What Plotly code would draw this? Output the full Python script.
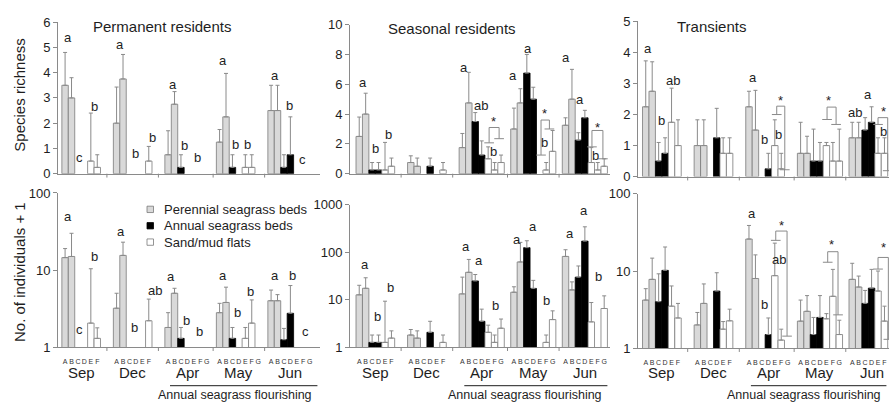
import math
import plotly.graph_objects as go

FONT = "Arial, 'Liberation Sans', sans-serif"
W, H = 889, 412

MONTHS = ["Sep", "Dec", "Apr", "May", "Jun"]
SITES = [list("ABCDEF"), list("ABCDEF"), list("ABCDEFG"), list("ABCDEFG"), list("ABCDEFG")]
HABITATS = ["Perennial seagrass beds", "Annual seagrass beds", "Sand/mud flats"]
SITE_HABITAT = {"A": 0, "B": 0, "C": 1, "D": 1, "E": 2, "F": 2, "G": 2}
PANEL_TITLES = ["Permanent residents", "Seasonal residents", "Transients"]
Y_TITLES = ["Species richness", "No. of individuals + 1"]
PERIOD_LABEL = "Annual seagrass flourishing"

# ---- data: order Sep A-F, Dec A-F, Apr A-G, May A-G, Jun A-G ----
PERM_RICH = [3.5, 3.0, 0, 0, 0.5, 0.25,
             2.0, 3.75, 0, 0, 0, 0.5,
             0.75, 2.75, 0.25, 0, 0, 0, 0,
             1.25, 2.25, 0.25, 0, 0.25, 0.25, 0,
             2.5, 2.5, 0.25, 0.75, 0, 0, 0]
PERM_RICH_SE = [1.3, 0.8, 0, 0, 1.9, 0.5,
                1.43, 0.97, 0, 0, 0, 0.58,
                0.95, 0.5, 0.5, 0, 0, 0, 0,
                0.5, 1.72, 0.5, 0, 0.5, 0.5, 0,
                1.0, 1.0, 0.5, 1.5, 0, 0, 0]
SEAS_RICH = [2.5, 4.0, 0.25, 0.25, 0.25, 0.5,
             0.75, 0.5, 0, 0.5, 0, 0.25,
             1.75, 4.75, 3.5, 1.25, 1.0, 0.25, 0.75,
             3.0, 4.75, 6.75, 5.0, 0, 0.25, 1.5,
             3.25, 5.0, 2.25, 3.75, 0.75, 0.25, 0.5]
SEAS_RICH_SE = [1.3, 1.4, 0.5, 0.5, 1.85, 0.55,
                0.45, 0.55, 0, 0.55, 0, 0.5,
                0.95, 2.05, 0.6, 0.95, 0.8, 0.5, 0.5,
                1.4, 0.95, 1.25, 0.8, 0, 0.5, 1.4,
                0.5, 2.0, 0.5, 0.5, 1.0, 0.5, 0.5]
TRAN_RICH = [2.25, 2.75, 0.5, 0.75, 1.75, 1.0,
             1.0, 1.0, 0, 1.25, 0.75, 0.75,
             2.25, 1.5, 0, 0.25, 1.0, 0.25, 0,
             0.75, 0.75, 0.5, 0.5, 1.0, 0.5, 0.5,
             1.25, 1.25, 1.5, 1.75, 0.75, 0.75, 0]
TRAN_RICH_SE = [1.48, 0.95, 0.6, 0.5, 1.1, 0.83,
                0.83, 0.83, 0, 0.95, 0.5, 0.5,
                0.5, 1.28, 0, 0.5, 0.83, 0.5, 0,
                1.0, 0.55, 1.03, 0.6, 0.1, 0.6, 1.03,
                0.5, 0.5, 0.4, 0.5, 0.5, 0.5, 0]
PERM_IND = [14.5, 15.0, 1, 1, 2.05, 1.3,
            3.2, 15.5, 1, 1, 1, 2.2,
            1.8, 5.0, 1.3, 1, 1, 1, 1,
            2.8, 3.8, 1.3, 1, 1.3, 2.05, 1,
            4.0, 4.0, 1.25, 2.75, 1, 1, 1]
PERM_IND_SE = [4.5, 15.0, 0, 0, 8.35, 0.48,
               1.8, 7.5, 0, 0, 0, 2.0,
               1.0, 0.8, 0.5, 0, 0, 0, 0,
               0.9, 2.2, 0.5, 0, 0.5, 2.05, 0,
               1.5, 0.8, 0.5, 3.55, 0, 0, 0]
SEAS_IND = [12.6, 17.3, 1.26, 1.26, 1.26, 1.55,
            1.8, 1.55, 1, 2.05, 1, 1.26,
            13.2, 37.5, 24.7, 3.5, 2.05, 1.26, 2.5,
            14.3, 62, 124, 17.2, 1, 1.26, 3.8,
            81, 16, 29.7, 170, 3.4, 1, 6.5]
SEAS_IND_SE = [7.4, 11.5, 0.54, 0.54, 8.0, 0.65,
               0.55, 0.65, 0, 1.45, 0, 0.54,
               16.5, 32.5, 9.0, 2.8, 0.85, 0.54, 1.4,
               4.3, 98, 49, 8.2, 0, 0.54, 2.0,
               31, 7.6, 21.3, 170, 5.3, 0, 5.5]
TRAN_IND = [4.2, 7.8, 4.0, 10.2, 3.5, 2.46,
            2.0, 3.8, 1, 5.5, 1.76, 2.26,
            26, 8.0, 1, 1.5, 8.7, 1.27, 1,
            2.24, 3.0, 1.5, 2.5, 2.4, 4.7, 1.5,
            7.8, 6.2, 3.8, 6.0, 5.5, 2.24, 1]
TRAN_IND_SE = [1.7, 6.9, 5.2, 10.3, 2.9, 1.34,
               0.9, 3.0, 0, 4.0, 0.45, 0.94,
               13, 8.2, 0, 0.96, 14.3, 0.49, 0,
               1.96, 1.8, 1.0, 2.3, 0.4, 5.8, 0.8,
               4.8, 2.4, 1.8, 4.5, 4.5, 1.26, 0]

# significance letters (text, x in bar units, y in data units)
PERM_RICH_LET = [("a", 0.9, 5.4), ("c", 2.8, 0.65), ("b", 5.0, 2.65),
                 ("a", 9.1, 5.1), ("b", 11.5, 0.8), ("b", 14.1, 1.45),
                 ("a", 17.2, 3.55), ("b", 19.1, 1.1), ("b", 21.1, 0.65),
                 ("a", 25.0, 4.5), ("b", 27.0, 1.15), ("b", 28.8, 1.15),
                 ("a", 33.1, 3.9), ("b", 35.3, 2.7), ("c", 37.4, 0.55)]
SEAS_RICH_LET = [("a", 1.1, 6.1), ("b", 3.1, 1.7), ("b", 5.0, 2.6),
                 ("a", 16.8, 7.1), ("ab", 19.4, 4.6), ("b", 21.3, 1.5), ("*", 21.3, 3.5),
                 ("a", 24.4, 6.6), ("a", 26.7, 8.4), ("b", 29.2, 2.1), ("*", 29.2, 4.05),
                 ("a", 32.5, 7.8), ("a", 34.8, 5.0), ("b", 37.1, 1.2), ("*", 37.4, 3.1)]
TRAN_RICH_LET = [("a", 0.9, 4.13), ("b", 2.95, 1.8), ("ab", 4.8, 3.1),
                 ("a", 17.1, 3.2), ("b", 18.9, 1.2), ("b", 21.0, 1.37), ("*", 21.4, 2.45),
                 ("*", 28.9, 2.45),
                 ("ab", 32.9, 2.05), ("a", 34.9, 2.64), ("b", 37.3, 1.45), ("*", 37.3, 2.1)]
PERM_IND_LET = [("a", 0.9, 49), ("c", 2.8, 1.7), ("b", 5.0, 15),
                ("a", 9.2, 31.6), ("b", 11.3, 1.78), ("ab", 14.4, 5.5),
                ("a", 17.0, 8.2), ("b", 19.4, 2.2), ("b", 21.4, 1.6),
                ("a", 25.0, 8.6), ("b", 27.3, 2.85), ("b", 29.3, 5.2),
                ("a", 33.1, 8.4), ("b", 35.8, 8.4), ("c", 37.8, 1.6)]
SEAS_IND_LET = [("a", 1.4, 55), ("b", 3.4, 4.4), ("b", 5.3, 18),
                ("a", 17.1, 130), ("a", 19.1, 68), ("b", 21.6, 7.7),
                ("a", 25.0, 183), ("a", 27.5, 340), ("b", 29.5, 9.5),
                ("a", 33.2, 247), ("a", 35.4, 740), ("b", 37.6, 30)]
TRAN_IND_LET = [("a", 16.9, 55), ("b", 18.9, 3.7), ("ab", 21.1, 14.3), ("*", 21.6, 39),
                ("*", 29.3, 22), ("*", 37.3, 20)]

# comparison brackets (left x, right x, top y, left foot y, right foot y)
SEAS_RICH_BR = [(20.65, 22.2, 3.1, 2.07, 2.35), (28.7, 30.0, 3.6, 1.25, 3.0),
                (36.6, 38.3, 2.9, 1.8, 1.0)]
TRAN_RICH_BR = [(20.8, 22.05, 2.27, 2.0, 0.22), (28.6, 30.0, 2.24, 1.84, 1.68),
                (36.5, 38.0, 1.9, 1.68, 0.19)]
TRAN_IND_BR = [(20.65, 22.4, 33, 25, 1.43), (28.7, 30.3, 17.8, 13, 2.7),
               (36.5, 38.1, 15, 10.6, 1.3)]

# ---- layout geometry (pixels) ----
GROUP_START = [0, 8, 16, 24, 32]
SEPARATORS = [7, 15, 23.5, 31.5]
BAR_COL = ["#d9d9d9", "#000000", "#ffffff"]
BAR_LINE = ["#7a7a7a", "#000000", "#7a7a7a"]
AX_COL = "#8a8a8a"
TXT = "#1e1e1e"

xs, site_flat = [], []
for g, sites in enumerate(SITES):
    for i, s in enumerate(sites):
        xs.append(GROUP_START[g] + i + 0.5)
        site_flat.append(s)

# columns: (axis px left, axis px right, x range)
COLS = [(58, 320, [-0.6, 40.1]), (350, 610, [-0.93, 39.4]), (638, 889, [-0.7, 38.2])]
TOP_ROW = [(173, 15.7), (173, 18.3), (176, 15)]
BOT_ROW = [(353, 193), (353, 205), (354, 194)]

panels = [
    dict(v=PERM_RICH, se=PERM_RICH_SE, log=False, rng=[0, 6], tv=[0, 1, 2, 3, 4, 5, 6], let=PERM_RICH_LET, br=[]),
    dict(v=SEAS_RICH, se=SEAS_RICH_SE, log=False, rng=[0, 10], tv=[0, 2, 4, 6, 8, 10], let=SEAS_RICH_LET, br=SEAS_RICH_BR),
    dict(v=TRAN_RICH, se=TRAN_RICH_SE, log=False, rng=[0, 5], tv=[0, 1, 2, 3, 4, 5], let=TRAN_RICH_LET, br=TRAN_RICH_BR),
    dict(v=PERM_IND, se=PERM_IND_SE, log=True, rng=[0, 2], tv=[1, 10, 100], let=PERM_IND_LET, br=[]),
    dict(v=SEAS_IND, se=SEAS_IND_SE, log=True, rng=[0, 3], tv=[1, 10, 100, 1000], let=SEAS_IND_LET, br=[]),
    dict(v=TRAN_IND, se=TRAN_IND_SE, log=True, rng=[0, 2], tv=[1, 10, 100], let=TRAN_IND_LET, br=TRAN_IND_BR),
]

fig = go.Figure()
shapes, annotations = [], []

for p, P in enumerate(panels):
    row, col = divmod(p, 3)
    n = p + 1
    xa = "x" if n == 1 else f"x{n}"
    ya = "y" if n == 1 else f"y{n}"
    xl_px, xr_px, xrng = COLS[col]
    yb_px, yt_px = (TOP_ROW if row == 0 else BOT_ROW)[col]
    base = 1 if P["log"] else 0

    for h in range(3):
        idx = [k for k in range(len(xs)) if SITE_HABITAT[site_flat[k]] == h]
        yv = [P["v"][k] if P["v"][k] > base else None for k in idx]
        ye = [P["se"][k] if P["v"][k] > base else None for k in idx]
        fig.add_trace(go.Bar(
            x=[xs[k] for k in idx], y=yv, width=1, xaxis=xa, yaxis=ya,
            marker=dict(color=BAR_COL[h], line=dict(color=BAR_LINE[h], width=0.8)),
            error_y=dict(type="data", symmetric=False, array=ye, arrayminus=[0] * len(idx),
                         color=AX_COL, thickness=1, width=2),
            showlegend=False, hoverinfo="skip"))

    # comparison brackets
    bx, by = [], []
    for (x1, x2, top, y1, y2) in P["br"]:
        bx += [x1 - 0.75, x1 + 0.75, None, x1, x1, x2, x2, None, x2 - 0.75, x2 + 0.75, None]
        by += [y1, y1, None, y1, top, top, y2, None, y2, y2, None]
    if bx:
        fig.add_trace(go.Scatter(x=bx, y=by, mode="lines", xaxis=xa, yaxis=ya,
                                 line=dict(color=AX_COL, width=1), showlegend=False, hoverinfo="skip"))
    # significance letters
    for (t, lx, ly) in P["let"]:
        annotations.append(dict(text=t, x=lx, y=math.log10(ly) if P["log"] else ly, xref=xa, yref=ya,
                                showarrow=False, xanchor="center", yanchor="middle",
                                font=dict(family=FONT, size=13, color=TXT)))

    xdom = [xl_px / W, xr_px / W]
    ydom = [1 - yb_px / H, 1 - yt_px / H]
    xaxis = dict(domain=xdom, range=xrng, anchor=ya, showline=True, linecolor=AX_COL, linewidth=1,
                 showgrid=False, zeroline=False, fixedrange=True)
    if row == 1:
        xaxis.update(tickvals=xs, ticktext=site_flat, ticks="", tickangle=0, ticklabelstandoff=7,
                     tickfont=dict(family=FONT, size=7, color="#333"))
    else:
        xaxis.update(showticklabels=False, ticks="")
    yaxis = dict(domain=ydom, anchor=xa, showline=True, linecolor=AX_COL, linewidth=1, showgrid=False,
                 zeroline=False, ticks="outside", ticklen=4, tickcolor=AX_COL,
                 tickvals=P["tv"], ticktext=[str(t) for t in P["tv"]],
                 tickfont=dict(family=FONT, size=13, color=TXT), fixedrange=True, range=P["rng"])
    if P["log"]:
        yaxis["type"] = "log"
    fig.layout[("xaxis" if n == 1 else f"xaxis{n}")] = xaxis
    fig.layout[("yaxis" if n == 1 else f"yaxis{n}")] = yaxis

    # group separator ticks
    tick_frac = 4 / (yb_px - yt_px)
    for sx in SEPARATORS:
        shapes.append(dict(type="line", xref=xa, yref=f"{ya} domain", x0=sx, x1=sx, y0=0, y1=-tick_frac,
                           line=dict(color=AX_COL, width=1)))

    if row == 1:
        for g, m in enumerate(MONTHS):
            cx = GROUP_START[g] + len(SITES[g]) / 2
            annotations.append(dict(text=m, x=cx, xref=xa, y=1 - 379 / H, yref="paper", showarrow=False,
                                    font=dict(family=FONT, size=15, color=TXT), xanchor="center", yanchor="middle"))
        shapes.append(dict(type="line", xref=xa, yref="paper", x0=16.8, x1=xrng[1] - 0.4,
                           y0=1 - 393 / H, y1=1 - 393 / H, line=dict(color=TXT, width=1)))
        tcx = min((16.8 + 40.0) / 2 - 0.2, xrng[1] - 13.2)
        annotations.append(dict(text=PERIOD_LABEL, x=tcx, xref=xa, y=1 - 403 / H, yref="paper",
                                showarrow=False, font=dict(family=FONT, size=12.5, color=TXT),
                                xanchor="center", yanchor="middle"))

# panel titles
for (txt, cx, cy) in zip(PANEL_TITLES, [162, 452, 711], [20, 22, 20]):
    annotations.append(dict(text=txt, x=cx / W, y=1 - cy / H, xref="paper", yref="paper", showarrow=False,
                            font=dict(family=FONT, size=15, color=TXT), xanchor="center", yanchor="middle"))
# y titles
for (txt, cy) in zip(Y_TITLES, [92, 275]):
    annotations.append(dict(text=txt, x=20 / W, y=1 - cy / H, xref="paper", yref="paper", showarrow=False,
                            textangle=-90, font=dict(family=FONT, size=15, color=TXT),
                            xanchor="center", yanchor="middle"))
# legend
for h, (name, cy) in enumerate(zip(HABITATS, [210, 227, 244])):
    shapes.append(dict(type="rect", xref="paper", yref="paper", x0=147 / W, x1=153.5 / W,
                       y0=1 - (cy + 3.3) / H, y1=1 - (cy - 3.3) / H,
                       fillcolor=BAR_COL[h], line=dict(color=BAR_LINE[h], width=0.8)))
    annotations.append(dict(text=name, x=162 / W, y=1 - cy / H, xref="paper", yref="paper", showarrow=False,
                            font=dict(family=FONT, size=13, color=TXT), xanchor="left", yanchor="middle"))

fig.update_layout(width=W, height=H, margin=dict(l=0, r=0, t=0, b=0), barmode="overlay",
                  plot_bgcolor="white", paper_bgcolor="white", shapes=shapes, annotations=annotations,
                  showlegend=False, font=dict(family=FONT))
fig.write_html("out.html", config={"displayModeBar": False})
